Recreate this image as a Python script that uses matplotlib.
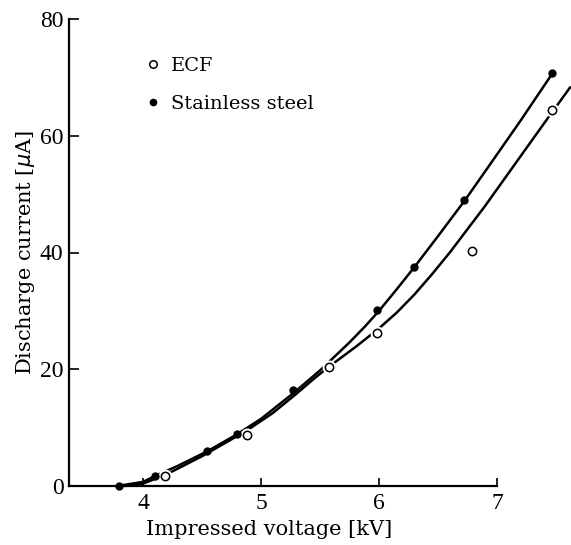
import matplotlib
matplotlib.use('Agg')
import matplotlib.pyplot as plt

# measured points
ecf_v = [4.19, 4.88, 5.58, 5.98, 6.79, 7.47]
ecf_i = [1.7, 8.7, 20.4, 26.2, 40.2, 64.4]
ss_v = [3.80, 4.10, 4.54, 4.80, 5.27, 5.98, 6.30, 6.72, 7.47]
ss_i = [0.0, 1.7, 6.0, 8.9, 16.4, 30.1, 37.5, 49.0, 70.7]

# hand-drawn curves
ss_curve_v = [3.78, 4.0, 4.1, 4.3, 4.55, 4.8, 5.0, 5.28, 5.5, 5.75, 5.88, 6.0, 6.15, 6.3,
              6.5, 6.73, 7.0, 7.2, 7.47]
ss_curve_i = [0.0, 0.7, 1.7, 3.5, 6.0, 8.9, 11.5, 16.0, 19.8, 24.6, 27.3, 30.0, 33.7, 37.5,
              42.8, 49.0, 56.8, 62.6, 70.7]
ecf_curve_v = [3.85, 4.0, 4.2, 4.5, 4.88, 5.1, 5.3, 5.45, 5.58, 5.8, 6.0, 6.15, 6.3, 6.45,
               6.6, 6.9, 7.2, 7.43, 7.62]
ecf_curve_i = [0.0, 0.4, 2.0, 5.1, 9.5, 12.5, 15.8, 18.4, 20.5, 23.8, 27.0, 29.7, 32.8, 36.3,
               40.0, 48.0, 56.5, 63.0, 68.3]

xticks = [4, 5, 6, 7]
yticks = [0, 20, 40, 60, 80]

fig = plt.figure(figsize=(5.71, 5.45), dpi=100)
ax = fig.add_axes([69 / 571, 59 / 545, 502 / 571, 467 / 545])

lw = 1.8
ax.plot(ss_curve_v, ss_curve_i, color='black', lw=lw, solid_capstyle='round',
        solid_joinstyle='round', clip_on=False)
ax.plot(ecf_curve_v, ecf_curve_i, color='black', lw=lw, solid_capstyle='round',
        solid_joinstyle='round', clip_on=False)

# white halo round the open circles so the line breaks there
ax.plot(ecf_v, ecf_i, 'o', ms=9, mfc='white', mec='white', clip_on=False, zorder=3)
ax.plot(ecf_v, ecf_i, 'o', ms=6, mfc='white', mec='black', mew=1.1, clip_on=False, zorder=4,
        label='ECF')
ax.plot(ss_v, ss_i, 'o', ms=5, color='black', clip_on=False, zorder=4, label='Stainless steel')

ax.set_xlim(3.373, 7.627)
ax.set_ylim(0, 80)
ax.set_xticks(xticks)
ax.set_yticks(yticks)

for s in ['top', 'right']:
    ax.spines[s].set_visible(False)
ax.spines['bottom'].set_bounds(3.373, 7)
ax.spines['left'].set_bounds(0, 80)
ax.spines['left'].set_linewidth(1.6)
ax.spines['bottom'].set_linewidth(1.6)

ax.tick_params(direction='in', width=1.2)
ax.tick_params(axis='x', length=6, pad=5)
ax.tick_params(axis='y', length=7, pad=4)
for lab in ax.get_xticklabels() + ax.get_yticklabels():
    lab.set_fontfamily('Liberation Serif')
    lab.set_fontsize(17)

ax.set_xlabel('Impressed voltage [kV]', fontfamily='DejaVu Serif', fontsize=15)
ax.set_ylabel(r'Discharge current [$\mu$A]', fontfamily='DejaVu Serif', fontsize=15)
ax.xaxis.set_label_coords(0.398, -0.072)
ax.yaxis.set_label_coords(-0.064, 0.5)

leg = ax.legend(loc='upper left', bbox_to_anchor=(0.156, 0.918), frameon=False,
                handlelength=0.6, handletextpad=0.6, labelspacing=1.0,
                prop={'family': 'DejaVu Serif', 'size': 14}, markerscale=0.9,
                borderaxespad=0, borderpad=0)

fig.savefig('out.png', dpi=100)
